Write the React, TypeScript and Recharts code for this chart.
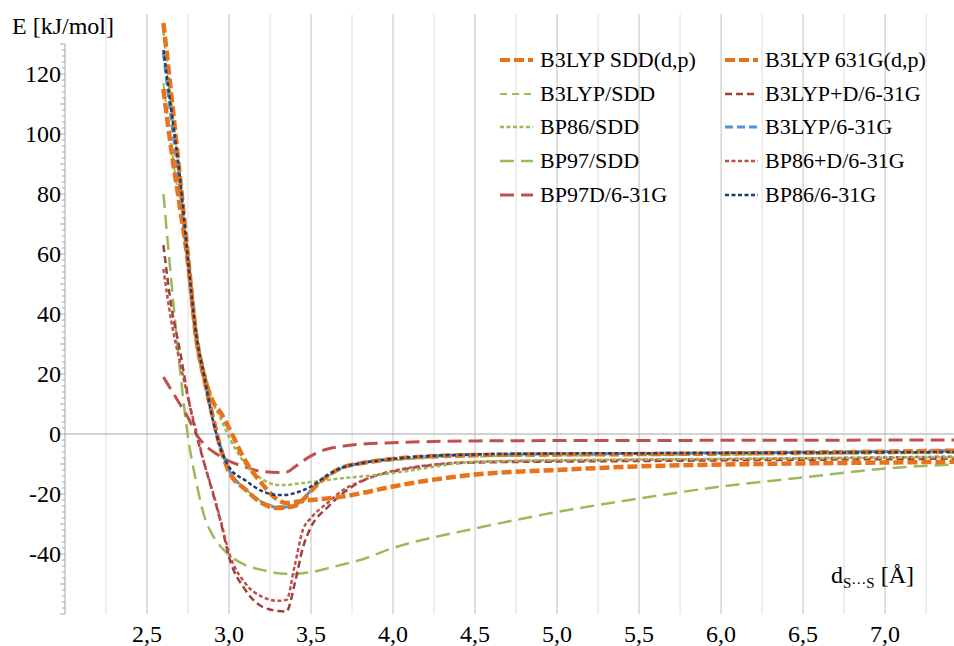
import React from 'react';
import { LineChart, Line, XAxis, YAxis, ReferenceLine, Legend } from 'recharts';

// S...S distance in Angstrom
const distances = [2.6, 2.65, 2.7, 2.75, 2.8, 2.85, 2.9, 2.95, 3.0, 3.1, 3.2, 3.3, 3.35, 3.4, 3.45, 3.5, 3.6, 3.7, 3.8, 4.0, 4.5, 5.0, 5.5, 6.0, 6.5, 7.0, 7.5];

// energies in kJ/mol
const b3lypSddDp = [137, 112, 86, 59, 33, 19, 11, 7, 2, -9, -16.5, -22, -23, -22.7, -22.3, -22, -21.5, -20.8, -19.8, -17.5, -13.5, -12, -10.8, -10.2, -9.8, -9.5, -9.2];
const b3lyp631GDp = [115, 94, 76, 57, 32, 18, 6, -5, -12.5, -18.5, -23, -24.7, -24.5, -24, -22, -19, -14, -11, -9.8, -8.3, -7, -6.8, -6.7, -6.5, -6.2, -5.9, -5.5];
const b3lypSdd = [117, 95, 76, 56, 31, 17, 5, -5, -12, -18.3, -22.5, -24, -24, -23.5, -21.5, -18.7, -14.3, -11.2, -10, -8.8, -7.5, -7.2, -7, -6.9, -6.7, -6.5, -6.3];
const b3lypD631G = [63, 42, 28, 12.5, 0, -10, -19.5, -29.5, -41, -52, -57.5, -59, -59.2, -50, -38, -31, -24.5, -19.5, -16, -12.5, -9.5, -9.2, -9, -8.8, -8.6, -8.4, -8.2];
const bp86Sdd = [134, 110, 85, 59, 34, 21, 11, 5, -1, -10, -15, -17, -17, -16.7, -16.3, -16, -15.3, -14.7, -14.2, -13, -9.3, -8.7, -8.5, -8.3, -8.1, -7.9, -7.7];
const b3lyp631G = [127, 104, 82, 57, 32, 18, 6, -4.5, -12, -18.3, -22.8, -24.5, -24.3, -23.8, -21.8, -18.8, -14, -11, -9.8, -8.3, -6.9, -6.6, -6.5, -6.3, -6.1, -5.8, -5.5];
const bp97Sdd = [80, 50, 22, -1, -16, -27.5, -33.7, -37.6, -40.3, -43.7, -45.3, -46.4, -46.6, -46.7, -46.4, -46, -44.8, -43.4, -42, -38, -31.5, -26, -21.5, -17.5, -14.5, -11.5, -10];
const bp86D631G = [55, 37, 24, 12, 1, -10, -19, -29, -39.5, -49.8, -54.2, -55.6, -55.3, -44, -32, -28, -23, -18.5, -15.8, -12.3, -9.3, -8.9, -8.6, -8.4, -8.1, -7.8, -7.5];
const bp97D631G = [19, 14.5, 10, 5.5, 0, -3.5, -5.8, -7.5, -9, -11, -12.5, -12.8, -12.7, -11, -9, -7.3, -5, -4, -3.4, -2.9, -2.3, -2.2, -2.2, -2.1, -2.1, -2, -2];
const bp86631G = [128, 107, 86, 58, 33, 19, 5, -5, -11, -15.5, -19, -20.3, -20.3, -19.7, -18.8, -17.5, -13.7, -11, -9.8, -8.3, -6.8, -6.5, -6.4, -6.3, -6.2, -6.1, -6];

const xTicks = [2.5, 3.0, 3.5, 4.0, 4.5, 5.0, 5.5, 6.0, 6.5, 7.0];
const xMinorGrid = [2.25, 2.75, 3.25, 3.75, 4.25, 4.75, 5.25, 5.75, 6.25, 6.75, 7.25];
const yLabelTicks = [-40, -20, 0, 20, 40, 60, 80, 100, 120];
const yMinorTicks = Array.from({ length: 96 }, (_, i) => -60 + i * 2);

const FONT = '"Liberation Serif", "Times New Roman", serif';

// drawing order: first is at the bottom
const series = [
  { key: 'b3lypSdd', name: 'B3LYP/SDD', values: b3lypSdd, color: '#9BBB59', width: 2, dash: '7 5' },
  { key: 'bp97Sdd', name: 'BP97/SDD', values: bp97Sdd, color: '#9BBB59', width: 2.5, dash: '14 7' },
  { key: 'bp97D631G', name: 'BP97D/6-31G', values: bp97D631G, color: '#C0504D', width: 3, dash: '14 7' },
  { key: 'b3lypD631G', name: 'B3LYP+D/6-31G', values: b3lypD631G, color: '#A0403D', width: 2.5, dash: '7 4' },
  { key: 'bp86D631G', name: 'BP86+D/6-31G', values: bp86D631G, color: '#C0504D', width: 2.5, dash: '4 2.5' },
  { key: 'bp86Sdd', name: 'BP86/SDD', values: bp86Sdd, color: '#9BBB59', width: 2.5, dash: '4 2.5' },
  { key: 'b3lyp631G', name: 'B3LYP/6-31G', values: b3lyp631G, color: '#4F93D8', width: 3, dash: '8 4' },
  { key: 'b3lyp631GDp', name: 'B3LYP 631G(d,p)', values: b3lyp631GDp, color: '#E8731A', width: 4.5, dash: '10 4' },
  { key: 'b3lypSddDp', name: 'B3LYP SDD(d,p)', values: b3lypSddDp, color: '#E8731A', width: 4.5, dash: '10 4' },
  { key: 'bp86631G', name: 'BP86/6-31G', values: bp86631G, color: '#1F3F74', width: 2.5, dash: '4 2.5' },
];

const legendOrder = [
  'b3lypSddDp', 'b3lyp631GDp',
  'b3lypSdd', 'b3lypD631G',
  'bp86Sdd', 'b3lyp631G',
  'bp97Sdd', 'bp86D631G',
  'bp97D631G', 'bp86631G',
];

const data = distances.map((d, i) => {
  const row: Record<string, number> = { d };
  series.forEach((s) => {
    row[s.key] = s.values[i];
  });
  return row;
});

const YTick = (props: any) => {
  const { x, y, payload } = props;
  const v = payload.value;
  const major = v % 10 === 0;
  const label = yLabelTicks.includes(v);
  return (
    <g>
      <line x1={x - (major ? 5 : 3)} x2={x} y1={y} y2={y} stroke="#A6A6A6" strokeWidth={1} />
      {label && (
        <text x={x - 4} y={y} dy={8} textAnchor="end" fontSize={24} fontFamily={FONT} fill="#000">
          {v}
        </text>
      )}
    </g>
  );
};

const renderLegend = (props: any) => {
  const items = [...(props.payload || [])].sort(
    (a: any, b: any) => legendOrder.indexOf(a.dataKey) - legendOrder.indexOf(b.dataKey)
  );
  return (
    <div style={{ display: 'grid', gridTemplateColumns: '225px 225px' }}>
      {items.map((item: any) => {
        const s = series.find((z) => z.key === item.dataKey)!;
        return (
          <div key={s.key} style={{ display: 'flex', alignItems: 'center', height: 33.7 }}>
            <svg width={42} height={12} style={{ display: 'block' }}>
              <line x1={2} x2={35} y1={6} y2={6} stroke={s.color} strokeWidth={Math.min(s.width, 4)} strokeDasharray={s.dash} />
            </svg>
            <span style={{ fontSize: 22, fontFamily: FONT, color: '#000', whiteSpace: 'nowrap' }}>{s.name}</span>
          </div>
        );
      })}
    </div>
  );
};

export default function App() {
  return (
    <div style={{ position: 'absolute', left: 0, top: 0, width: 954, height: 646, background: '#fff' }}>
      <LineChart width={954} height={646} data={data} margin={{ top: 14, right: 0, bottom: 0, left: 0 }}>
        {xMinorGrid.map((v) => (
          <ReferenceLine key={'m' + v} x={v} stroke="#DEDEDE" strokeWidth={1} />
        ))}
        {xTicks.map((v) => (
          <ReferenceLine key={'g' + v} x={v} stroke="#BFBFBF" strokeWidth={1} />
        ))}
        <ReferenceLine y={0} stroke="#A6A6A6" strokeWidth={1} />
        <ReferenceLine
          segment={[
            { x: 2, y: -60 },
            { x: 2, y: 130 },
          ]}
          stroke="#A6A6A6"
          strokeWidth={1}
        />
        <XAxis
          dataKey="d"
          type="number"
          domain={[2, 7.42]}
          allowDataOverflow
          ticks={xTicks}
          interval={0}
          height={32}
          axisLine={false}
          tickLine={false}
          tickSize={0}
          tickMargin={11}
          tickFormatter={(v: number) => v.toFixed(1).replace('.', ',')}
          tick={{ fontSize: 24, fontFamily: FONT, fill: '#000' }}
        />
        <YAxis
          type="number"
          domain={[-60, 140]}
          ticks={yMinorTicks}
          interval={0}
          width={65}
          axisLine={false}
          tickLine={false}
          tickSize={0}
          tickMargin={0}
          tick={<YTick />}
        />
        <Legend
          layout="horizontal"
          verticalAlign="middle"
          content={renderLegend}
          wrapperStyle={{ left: 498, top: 43, width: 456, height: 170 }}
        />
        {series.map((s) => (
          <Line
            key={s.key}
            type="monotone"
            dataKey={s.key}
            name={s.name}
            stroke={s.color}
            strokeWidth={s.width}
            strokeDasharray={s.dash}
            dot={false}
            activeDot={false}
            isAnimationActive={false}
          />
        ))}
      </LineChart>
      <svg width={954} height={646} style={{ position: 'absolute', left: 0, top: 0, pointerEvents: 'none' }}>
        <text x={12} y={34} fontSize={24} fontFamily={FONT} fill="#000">
          E [kJ/mol]
        </text>
        <text x={831} y={583} fontSize={24} fontFamily={FONT} fill="#000">
          d
          <tspan fontSize={15} dy={5}>
            S···S
          </tspan>
          <tspan dy={-5}> [Å]</tspan>
        </text>
      </svg>
    </div>
  );
}
